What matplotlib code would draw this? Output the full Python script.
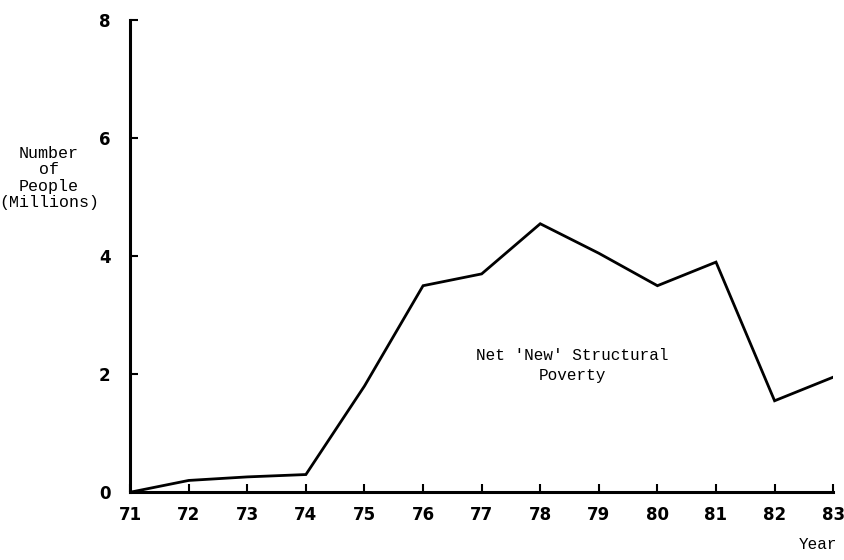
import matplotlib
matplotlib.use("Agg")
import matplotlib.pyplot as plt

# Net 'New' Structural Poverty, millions of people
years = [71, 72, 73, 74, 75, 76, 77, 78, 79, 80, 81, 82, 83]
people = [0.0, 0.2, 0.26, 0.3, 1.8, 3.5, 3.7, 4.55, 4.05, 3.5, 3.9, 1.55, 1.95]
y_ticks = [0, 2, 4, 6, 8]

fig = plt.figure(figsize=(8.45, 5.6), dpi=100)
ax = fig.add_axes([0.154, 0.121, 0.832, 0.843])

ax.plot(years, people, color="black", lw=2.0, solid_joinstyle="miter")

ax.set_xlim(71, 83)
ax.set_ylim(0, 8)
ax.set_xticks(years)
ax.set_yticks(y_ticks)
ax.tick_params(direction="in", length=6, width=1.5, labelsize=12, pad=10)
ax.tick_params(axis="y", pad=14)
for lab in ax.get_xticklabels() + ax.get_yticklabels():
    lab.set_fontweight("semibold")
ax.spines[["top", "right"]].set_visible(False)
ax.spines[["left", "bottom"]].set_linewidth(2.2)

mono = "Liberation Mono"
fig.text(0.058, 0.682, "Number\nof\nPeople\n(Millions)", ha="center", va="center",
         family=mono, fontsize=12, linespacing=1.1)
ax.text(78.55, 2.15, "Net 'New' Structural\nPoverty", ha="center", va="center",
        family=mono, fontsize=11.5, linespacing=1.45)
fig.text(0.968, 0.027, "Year", ha="center", va="center", family=mono, fontsize=11.5)

fig.savefig("out.png", dpi=100)
